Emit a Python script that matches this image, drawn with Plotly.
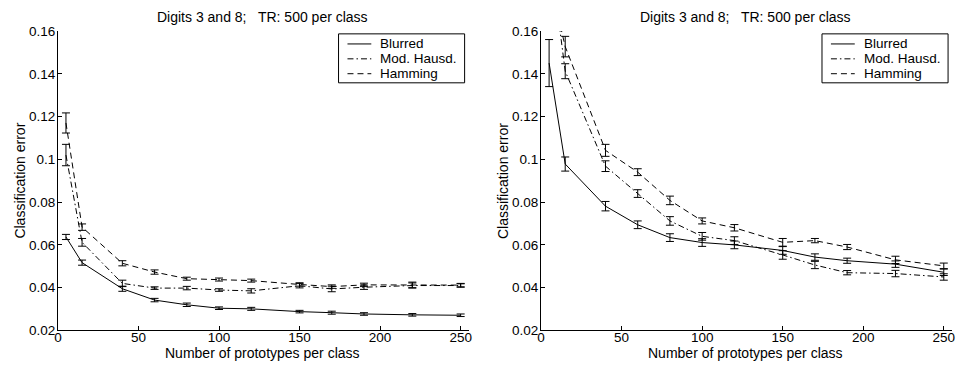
import plotly.graph_objects as go

# ---------------- data ----------------
prototypes = [5, 15, 40, 60, 80, 100, 120, 150, 170, 190, 220, 250]

# left panel
blur_left = [0.0637, 0.0517, 0.0395, 0.0342, 0.0320, 0.0304, 0.0301, 0.0288, 0.0283, 0.0277, 0.0273, 0.0271]
blur_left_err = [0.0012, 0.0012, 0.0012, 0.0008, 0.0008, 0.0006, 0.0007, 0.0006, 0.0007, 0.0006, 0.0006, 0.0006]
mod_left = [0.1020, 0.0612, 0.0420, 0.0398, 0.0398, 0.0389, 0.0385, 0.0409, 0.0394, 0.0402, 0.0410, 0.0410]
mod_left_err = [0.0050, 0.0018, 0.0015, 0.0006, 0.0008, 0.0006, 0.0010, 0.0010, 0.0013, 0.0010, 0.0012, 0.0008]
ham_left = [0.1170, 0.0683, 0.0514, 0.0473, 0.0442, 0.0438, 0.0433, 0.0415, 0.0405, 0.0413, 0.0413, 0.0412]
ham_left_err = [0.0047, 0.0015, 0.0012, 0.0010, 0.0007, 0.0007, 0.0007, 0.0008, 0.0008, 0.0008, 0.0013, 0.0008]

# right panel
blur_right = [0.1450, 0.0978, 0.0781, 0.0694, 0.0634, 0.0611, 0.0600, 0.0574, 0.0543, 0.0526, 0.0510, 0.0472]
blur_right_err = [0.0110, 0.0033, 0.0022, 0.0018, 0.0018, 0.0018, 0.0018, 0.0018, 0.0015, 0.0012, 0.0015, 0.0015]
mod_right = [0.2000, 0.1412, 0.0968, 0.0840, 0.0712, 0.0640, 0.0620, 0.0553, 0.0506, 0.0470, 0.0466, 0.0450]
mod_right_err = [0.0100, 0.0035, 0.0025, 0.0018, 0.0020, 0.0018, 0.0018, 0.0020, 0.0017, 0.0010, 0.0015, 0.0015]
ham_right = [0.1850, 0.1527, 0.1042, 0.0940, 0.0808, 0.0712, 0.0680, 0.0612, 0.0620, 0.0590, 0.0530, 0.0502]
ham_right_err = [0.0100, 0.0048, 0.0028, 0.0016, 0.0020, 0.0014, 0.0015, 0.0018, 0.0010, 0.0012, 0.0017, 0.0013]

series_names = ["Blurred", "Mod. Hausd.", "Hamming"]
title_text = "Digits 3 and 8;   TR: 500 per class"
x_title = "Number of prototypes per class"
y_title = "Classification error"
y_tickvals = [0.02, 0.04, 0.06, 0.08, 0.10, 0.12, 0.14, 0.16]
y_ticktext = ["0.02", "0.04", "0.06", "0.08", "0.1", "0.12", "0.14", "0.16"]
x_tickvals = [0, 50, 100, 150, 200, 250]

# ---------------- figure ----------------
W, H = 960, 373


def px(x):  # window x pixel -> paper fraction
    return x / W


def py(y):  # window y pixel -> paper fraction
    return 1 - y / H


FONT = "Liberation Sans, Arial, Helvetica, sans-serif"
dash_styles = ["solid", "6px,3px,1.5px,3px", "6px,4px"]

fig = go.Figure()

panels = [
    ("x", "y", [blur_left, mod_left, ham_left], [blur_left_err, mod_left_err, ham_left_err]),
    ("x2", "y2", [blur_right, mod_right, ham_right], [blur_right_err, mod_right_err, ham_right_err]),
]
for xa, ya, ys, errs in panels:
    for name, yv, ev, d in zip(series_names, ys, errs, dash_styles):
        fig.add_trace(go.Scatter(
            x=prototypes, y=yv, name=name, mode="lines",
            xaxis=xa, yaxis=ya, showlegend=False,
            line=dict(color="black", width=1, dash=d),
            error_y=dict(type="data", array=ev, visible=True, color="black",
                         thickness=1, width=4),
        ))

px_per_unit = (460.0 - 54.3) / 250.0
xmax = 255
left_x0 = 54.3
right_x0 = 541.0
left_dom = [px(left_x0), px(left_x0 + xmax * px_per_unit)]
right_dom = [px(right_x0), px(right_x0 + xmax * px_per_unit)]
ydom = [py(337.0), py(25.0)]

axis_common = dict(showline=True, linecolor="black", linewidth=1, mirror=False,
                   ticks="inside", ticklen=4, tickcolor="black", tickwidth=1,
                   showgrid=False, zeroline=False,
                   tickfont=dict(family=FONT, size=13.5, color="black"))

fig.update_layout(
    width=W, height=H,
    margin=dict(l=0, r=0, t=0, b=0),
    paper_bgcolor="white", plot_bgcolor="white",
    font=dict(family=FONT, size=14, color="black"),
    showlegend=False,
    xaxis=dict(domain=left_dom, range=[0, xmax], tickvals=x_tickvals, anchor="y",
               ticklabelstandoff=-6, **axis_common),
    yaxis=dict(domain=ydom, range=[0.02, 0.16], tickvals=y_tickvals, ticktext=y_ticktext, anchor="x",
               ticklabelstandoff=-1, **axis_common),
    xaxis2=dict(domain=right_dom, range=[0, xmax], tickvals=x_tickvals, anchor="y2",
                ticklabelstandoff=-6, **axis_common),
    yaxis2=dict(domain=ydom, range=[0.02, 0.16], tickvals=y_tickvals, ticktext=y_ticktext, anchor="x2",
                ticklabelstandoff=-1, **axis_common),
)

annotations = []
shapes = []
for x0, ylab_x, box_left in [(left_x0, 16, 337.0), (right_x0, 502, 824.0)]:
    cx = px(x0 + 125 * px_per_unit + 3)
    annotations.append(dict(text=title_text, x=cx, y=py(10.5), xref="paper", yref="paper",
                            xanchor="center", yanchor="middle", showarrow=False,
                            font=dict(family=FONT, size=14)))
    annotations.append(dict(text=x_title, x=cx, y=py(361), xref="paper", yref="paper",
                            xanchor="center", yanchor="middle", showarrow=False,
                            font=dict(family=FONT, size=14)))
    annotations.append(dict(text=y_title, x=px(ylab_x), y=(ydom[0] + ydom[1]) / 2, xref="paper", yref="paper",
                            xanchor="center", yanchor="middle", showarrow=False, textangle=-90,
                            font=dict(family=FONT, size=14)))
    # legend box
    box_w, box_top, box_bot = 127.0, 28.0, 79.0
    shapes.append(dict(type="rect", xref="paper", yref="paper",
                       x0=px(box_left), x1=px(box_left + box_w),
                       y0=py(box_bot), y1=py(box_top),
                       line=dict(color="black", width=1), fillcolor="white", layer="above"))
    for i, (name, d) in enumerate(zip(series_names, dash_styles)):
        yc = 38.5 + 15.5 * i
        shapes.append(dict(type="line", xref="paper", yref="paper",
                           x0=px(box_left + 9), x1=px(box_left + 33),
                           y0=py(yc), y1=py(yc),
                           line=dict(color="black", width=1, dash=d), layer="above"))
        annotations.append(dict(text=name, x=px(box_left + 40), y=py(yc),
                                xref="paper", yref="paper", xanchor="left", yanchor="middle",
                                showarrow=False, font=dict(family=FONT, size=13.5)))

fig.update_layout(annotations=annotations, shapes=shapes)

# remove the default page margin so the 960x373 figure fills the window exactly
fig.write_html("out.html", config={"displayModeBar": False},
               post_script="document.body.style.margin='0';document.body.style.overflow='hidden';")
